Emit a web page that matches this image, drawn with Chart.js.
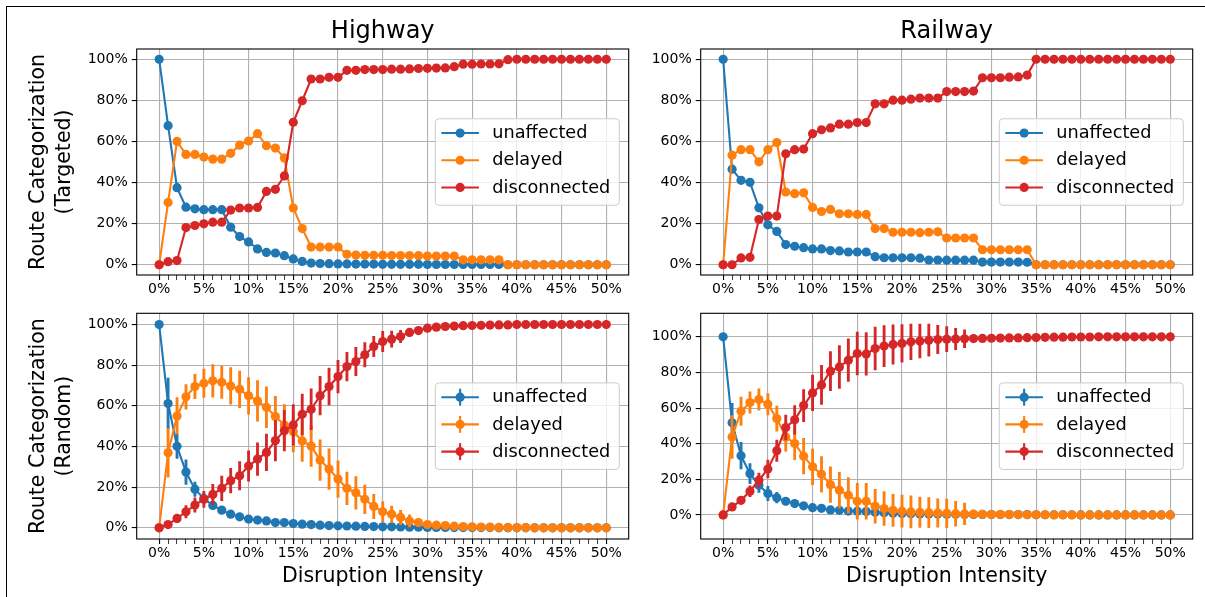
<!DOCTYPE html>
<html>
<head>
<meta charset="utf-8">
<script src="https://cdn.jsdelivr.net/npm/chart.js@4.4.1/dist/chart.umd.min.js"></script>
<style>
html, body { margin: 0; padding: 0; background: #fff; width: 1205px; height: 597px; overflow: hidden; }
#frame { position: absolute; left: 6px; top: 6px; width: 1300px; height: 700px; border-left: 1.6px solid #000; border-top: 1.6px solid #000; }
canvas { position: absolute; }
</style>
</head>
<body>
<div id="frame"></div>
<canvas id="cTL" width="637" height="295" style="left:8px;top:8px"></canvas>
<canvas id="cTR" width="560" height="295" style="left:645px;top:8px"></canvas>
<canvas id="cBL" width="637" height="292" style="left:8px;top:305px"></canvas>
<canvas id="cBR" width="560" height="292" style="left:645px;top:305px"></canvas>
<script>
// ---------------- DATA ----------------
const intensity = [0,1,2,3,4,5,6,7,8,9,10,11,12,13,14,15,16,17,18,19,20,21,22,23,24,25,26,27,28,29,30,31,32,33,34,35,36,37,38,39,40,41,42,43,44,45,46,47,48,49,50];
const seriesLabels = ['unaffected', 'delayed', 'disconnected'];
const panelTitles = ['Highway', 'Railway'];
const rowTitles = [['Route Categorization', '(Targeted)'], ['Route Categorization', '(Random)']];
const xAxisTitle = 'Disruption Intensity';

// Highway, targeted
const hwT_unaffected = [100,67.7,37.5,28.0,27.2,26.8,26.8,26.8,18.3,13.7, 11.1,7.7,6.0,5.7,4.4,2.8,1.6,0.8,0.6,0.5, 0.4,0.4,0.3,0.3,0.3,0.2,0.2,0.2,0.2,0.2, 0.1,0.1,0.1,0.1,0.1,0.1,0.1,0.1,0.1,0, 0,0,0,0,0,0,0,0,0,0,0];
const hwT_delayed = [0,30.3,60.0,53.7,53.7,52.4,51.4,51.4,54.2,58.2, 60.2,63.8,57.9,56.8,52.0,27.6,17.6,8.6,8.6,8.6, 8.6,5.1,4.7,4.6,4.6,4.6,4.5,4.5,4.5,4.4, 4.2,4.2,4.2,4.2,2.4,2.4,2.4,2.4,2.4,0, 0,0,0,0,0,0,0,0,0,0,0];
const hwT_disconnected = [0,1.5,2.0,18.1,19.1,19.9,20.7,20.7,26.6,27.6, 27.6,27.9,35.7,36.7,43.2,69.3,79.8,90.4,90.4,91.2, 91.2,94.6,94.6,95.0,95.0,95.0,95.2,95.2,95.3,95.5, 95.6,95.7,95.8,96.4,97.6,97.6,97.7,97.7,97.8,99.8, 100,100,100,100,100,100,100,100,100,100,100];

// Railway, targeted
const rwT_unaffected = [100,46.5,41.1,40.1,27.7,19.4,16.2,9.8,9.0,8.3, 7.7,7.7,6.9,6.7,6.2,6.2,6.2,3.9,3.4,3.4, 3.4,3.4,3.2,2.3,2.3,2.2,2.2,2.2,2.2,1.3, 1.3,1.3,1.3,1.3,1.2,0,0,0,0,0, 0,0,0,0,0,0,0,0,0,0,0];
const rwT_delayed = [0,53.3,56.0,56.0,50.1,56.0,59.5,35.4,34.6,35.0, 27.9,25.9,26.9,24.8,24.8,24.5,24.5,17.6,17.6,15.8, 15.8,15.8,15.6,15.8,16.0,13.0,13.0,13.0,13.0,7.3, 7.3,7.3,7.3,7.3,7.3,0,0,0,0,0, 0,0,0,0,0,0,0,0,0,0,0];
const rwT_disconnected = [0,0,3.3,3.6,22.0,23.7,23.7,54.0,56.0,56.3, 63.8,65.7,66.6,68.4,68.4,69.2,69.2,78.3,78.3,80.1, 80.1,80.6,81.1,81.1,81.1,84.3,84.3,84.3,84.5,91.0, 91.0,91.0,91.3,91.4,92.3,100,100,100,100,100, 100,100,100,100,100,100,100,100,100,100,100];

// Highway, random (mean and std)
const hwR_unaffected = [100,61.1,40.1,27.4,19.0,14.4,11.0,8.7,6.7,5.4, 4.3,3.8,3.4,2.6,2.6,2.1,1.8,1.6,1.3,1.1, 1.0,0.9,0.8,0.7,0.6,0.5,0.5,0.4,0.3,0.3, 0.2,0.2,0.2,0.1,0.1,0.1,0.1,0.1,0,0, 0,0,0,0,0,0,0,0,0,0,0];
const hwR_unaffected_err = [0,12.5,6.0,6.0,3.5,2.5,2.0,1.5,1.2,1.0, 1.0,0.8,0.8,0.7,0.7,0.6,0.6,0.5,0.5,0.5, 0.5,0.4,0.4,0.4,0.4,0.4,0.3,0.3,0.3,0.3, 0.2,0.2,0.2,0.1,0.1,0.1,0.1,0.1,0,0, 0,0,0,0,0,0,0,0,0,0,0];
const hwR_delayed = [0,36.9,55.0,64.4,69.5,71.1,72.3,71.6,69.8,68.1, 64.9,62.4,59.3,54.7,50.6,47.3,42.7,40.2,33.3,28.9, 24.0,19.4,17.2,14.0,10.5,7.9,6.7,5.1,3.4,2.6, 1.6,1.3,1.1,0.8,0.6,0.5,0.4,0.3,0.2,0.2, 0.1,0.1,0,0,0,0,0,0,0,0,0];
const hwR_delayed_err = [0,12,9,6,6,7,8,8,9,9, 9,10,10,10,10,10,10,10,10,10, 9,8,8,7,6,5,4,3.5,3,2, 1.5,1,1,0.8,0.6,0.5,0.4,0.3,0.3,0.2, 0.2,0.1,0,0,0,0,0,0,0,0,0];
const hwR_disconnected = [0,1.6,4.6,7.9,11.2,14.0,16.4,19.4,23.2,25.6, 30.4,33.8,37.1,42.9,47.8,50.6,55.8,58.3,65.0,69.5, 74.4,79.3,81.8,85.1,89.2,91.6,92.8,94.1,96.1,97.0, 98.2,98.7,99.0,99.2,99.4,99.5,99.6,99.7,99.8,99.8, 100,100,100,100,100,100,100,100,100,100,100];
const hwR_disconnected_err = [0,1,2,3,3.5,4,5,6,6,7, 7.5,8,9,10,10,10,10,10,9.5,9, 8,7,7,6,5,5,4,3,2,1.5, 1,0.8,0.6,0.5,0.4,0.3,0.3,0.2,0.2,0.1, 0,0,0,0,0,0,0,0,0,0,0];

// Railway, random (mean and std)
const rwR_unaffected = [100,51.7,33.3,23.2,16.7,12.0,9.7,7.7,6.4,5.1, 4.1,3.7,2.8,2.6,2.2,2.1,1.9,1.5,1.3,0.9, 0.8,0.7,0.6,0.5,0.5,0.4,0.4,0.3,0.3,0.3, 0.2,0.2,0.2,0.2,0.2,0.1,0.1,0.1,0.1,0.1, 0,0,0,0,0,0,0,0,0,0,0];
const rwR_unaffected_err = [0,11,7.5,5.6,4,4,3,2,1.2,1.0, 0.8,0.8,0.7,0.6,0.6,0.5,0.5,0.5,0.4,0.4, 0.4,0.3,0.3,0.3,0.3,0.2,0.2,0.2,0.2,0.2, 0.1,0.1,0.1,0.1,0.1,0.1,0.1,0.1,0.1,0.1, 0,0,0,0,0,0,0,0,0,0,0];
const rwR_delayed = [0,43.8,58.2,63.1,64.8,62.2,54.1,43.8,40.1,33.0, 27.0,22.8,17.0,13.9,11.0,7.7,7.7,4.9,3.6,2.6, 2.1,1.7,1.5,1.3,1.1,0.9,0.7,0.6,0.5,0.4, 0.3,0.3,0.2,0.2,0.1,0.1,0.1,0,0,0, 0,0,0,0,0,0,0,0,0,0,0];
const rwR_delayed_err = [0,12,8,6,6,6,7,8,9,10, 10,10,10,10,10,10,10,9.5,9.5,9, 9,9,8.5,8.5,8,8,7,6,1,0.8, 0.5,0.4,0.3,0.3,0.2,0.2,0.1,0,0,0, 0,0,0,0,0,0,0,0,0,0,0];
const rwR_disconnected = [0,4.5,8.2,13.3,19.5,25.8,36.1,49.1,53.4,61.4, 68.5,73.0,80.7,83.1,86.9,90.6,90.4,93.4,94.8,95.7, 96.3,97.2,97.6,98.1,98.5,98.7,98.8,98.9,99.0,99.1, 99.2,99.3,99.4,99.4,99.5,99.6,99.7,99.8,99.8,99.9, 99.9,99.9,100,100,100,100,100,100,100,100,100];
const rwR_disconnected_err = [0,1,2,3,4,5,6,7,8,9, 10,11,11,12,12,12,12,12,11.5,11, 10.5,10,9.5,9,8,7,6,5,1,0.8, 0.5,0.4,0.3,0.3,0.2,0.2,0.1,0.1,0.1,0.1, 0,0,0,0,0,0,0,0,0,0,0];

// ---------------- STYLE ----------------
const COLORS = ['#1f77b4', '#ff7f0e', '#d62728'];
const FONT = 'DejaVu Sans';
const MARKER_R = 4.6;
Chart.defaults.font.family = FONT;
Chart.defaults.font.size = 14;
Chart.defaults.color = '#000';

const framePlugin = {
  id: 'axFrame',
  afterDatasetsDraw(chart) {
    const a = chart.chartArea, ctx = chart.ctx;
    ctx.save();
    ctx.strokeStyle = '#000';
    ctx.lineWidth = 1.1;
    ctx.strokeRect(a.left, a.top, a.right - a.left, a.bottom - a.top);
    ctx.restore();
  }
};

const legendPlugin = {
  id: 'inLegend',
  afterDraw(chart, args, opts) {
    const ctx = chart.ctx, a = chart.chartArea;
    const items = chart.data.datasets.filter(d => d.type === 'line');
    const fs = 17.7;
    ctx.save();
    ctx.font = fs + 'px "' + FONT + '"';
    const textW = Math.max(...items.map(d => ctx.measureText(d.label).width));
    const padL = 6, handle = 37.6, gap = 13.4, padR = 9, rowH = 27.2, h = 86.5;
    const w = padL + handle + gap + textW + padR;
    const x = a.right - 9.4 - w;
    const y = (a.top + a.bottom) / 2 - h / 2;
    ctx.beginPath();
    if (ctx.roundRect) ctx.roundRect(x, y, w, h, 3.5); else ctx.rect(x, y, w, h);
    ctx.fillStyle = 'rgba(255,255,255,0.8)';
    ctx.fill();
    ctx.strokeStyle = '#cccccc';
    ctx.lineWidth = 1;
    ctx.stroke();
    items.forEach((d, k) => {
      const cy = y + 14.3 + rowH * k;
      const x0 = x + padL, x1 = x0 + handle, cx = (x0 + x1) / 2;
      ctx.strokeStyle = d.borderColor;
      ctx.fillStyle = d.borderColor;
      ctx.lineWidth = 2.1;
      ctx.beginPath(); ctx.moveTo(x0, cy); ctx.lineTo(x1, cy); ctx.stroke();
      if (opts.err) {
        ctx.beginPath(); ctx.moveTo(cx, cy - 8.5); ctx.lineTo(cx, cy + 8.5); ctx.stroke();
      }
      ctx.beginPath(); ctx.arc(cx, cy, MARKER_R, 0, Math.PI * 2); ctx.fill();
      ctx.fillStyle = '#000';
      ctx.textBaseline = 'middle';
      ctx.textAlign = 'left';
      ctx.fillText(d.label, x1 + gap, cy + 0.5);
    });
    ctx.restore();
  }
};

function buildDatasets(values, errs) {
  const ds = [];
  values.forEach((vals, k) => {
    ds.push({
      type: 'line', label: seriesLabels[k],
      data: intensity.map((x, i) => ({x: x, y: vals[i]})),
      borderColor: COLORS[k], backgroundColor: COLORS[k],
      pointBackgroundColor: COLORS[k], pointBorderColor: COLORS[k],
      pointRadius: MARKER_R, pointBorderWidth: 0, borderWidth: 2.1, tension: 0,
      order: 10 - 2 * k
    });
    if (errs) {
      ds.push({
        type: 'bar', label: seriesLabels[k] + ' error',
        data: intensity.map((x, i) => ({x: x, y: [vals[i] - errs[k][i], vals[i] + errs[k][i]]})),
        backgroundColor: COLORS[k], borderWidth: 0,
        barThickness: 2.2, maxBarThickness: 2.2, grouped: false,
        order: 9 - 2 * k
      });
    }
  });
  return ds;
}

function makePanel(id, cfg) {
  new Chart(document.getElementById(id), {
    type: 'line',
    data: { datasets: buildDatasets(cfg.values, cfg.errs) },
    options: {
      responsive: false, animation: false, events: [],
      layout: { padding: cfg.padding },
      plugins: {
        legend: { display: false },
        tooltip: { enabled: false },
        title: cfg.title ? {
          display: true, text: cfg.title, fullSize: false, color: '#000',
          font: { size: 24, weight: 'normal', family: FONT, lineHeight: 1.2 },
          padding: { top: 9.6, bottom: 2.6 }
        } : { display: false },
        inLegend: { err: !!cfg.errs }
      },
      scales: {
        x: {
          type: 'linear', min: -2.51, max: 52.51, offset: false, bounds: 'ticks',
          border: { display: false },
          grid: {
            offset: false, lineWidth: 1.1, tickLength: 5,
            color: c => (c.tick && c.tick.value % 5 === 0) ? '#b0b0b0' : 'rgba(0,0,0,0)',
            tickColor: c => (c.tick && c.tick.value >= 0 && c.tick.value <= 50) ? '#000' : 'rgba(0,0,0,0)',
            tickWidth: c => (c.tick && c.tick.value % 5 === 0) ? 1.1 : 0.8
          },
          ticks: {
            stepSize: 1, autoSkip: false, maxRotation: 0, minRotation: 0, includeBounds: false,
            padding: 1, color: '#000', font: { size: 14 },
            callback: v => (v % 5 === 0 && v >= 0 && v <= 50) ? v + '%' : ''
          },
          title: cfg.xTitle ? {
            display: true, text: cfg.xTitle, color: '#000',
            font: { size: 20.5, family: FONT, lineHeight: 1.2 },
            padding: { top: 4, bottom: 7.7 }
          } : { display: false },
          afterFit: s => { s.height = cfg.xH; s.paddingLeft = 0; s.paddingRight = 0; }
        },
        y: {
          type: 'linear', min: cfg.yMin, max: cfg.yMax, bounds: 'ticks',
          border: { display: false },
          grid: { color: '#b0b0b0', lineWidth: 1.1, tickLength: 5, tickColor: '#000', tickWidth: 1.1 },
          ticks: {
            stepSize: 20, includeBounds: false, padding: 4, color: '#000', font: { size: 14 },
            callback: v => v + '%'
          },
          title: cfg.yTitle ? {
            display: true, text: cfg.yTitle, color: '#000',
            font: { size: 20.5, family: FONT, lineHeight: 1.268 },
            padding: { top: 18, bottom: 4 }
          } : { display: false },
          afterFit: s => { s.width = cfg.yW; s.paddingTop = 0; s.paddingBottom = 0; }
        }
      }
    },
    plugins: [framePlugin, legendPlugin]
  });
}

makePanel('cTL', {
  values: [hwT_unaffected, hwT_delayed, hwT_disconnected], errs: null,
  title: panelTitles[0], yTitle: rowTitles[0], xTitle: null,
  yMin: -5, yMax: 105, yW: 128.7, xH: 28,
  padding: { top: 0, left: 0, right: 16.3, bottom: 0 }
});
makePanel('cTR', {
  values: [rwT_unaffected, rwT_delayed, rwT_disconnected], errs: null,
  title: panelTitles[1], yTitle: null, xTitle: null,
  yMin: -5, yMax: 105, yW: 55.7, xH: 28,
  padding: { top: 0, left: 0, right: 12.3, bottom: 0 }
});
makePanel('cBL', {
  values: [hwR_unaffected, hwR_delayed, hwR_disconnected],
  errs: [hwR_unaffected_err, hwR_delayed_err, hwR_disconnected_err],
  title: null, yTitle: rowTitles[1], xTitle: xAxisTitle,
  yMin: -5.5, yMax: 105.5, yW: 128.7, xH: 58,
  padding: { top: 8.3, left: 0, right: 16.3, bottom: 0 }
});
makePanel('cBR', {
  values: [rwR_unaffected, rwR_delayed, rwR_disconnected],
  errs: [rwR_unaffected_err, rwR_delayed_err, rwR_disconnected_err],
  title: null, yTitle: null, xTitle: xAxisTitle,
  yMin: -13.5, yMax: 113.2, yW: 55.7, xH: 58,
  padding: { top: 8.3, left: 0, right: 12.3, bottom: 0 }
});
</script>
</body>
</html>
